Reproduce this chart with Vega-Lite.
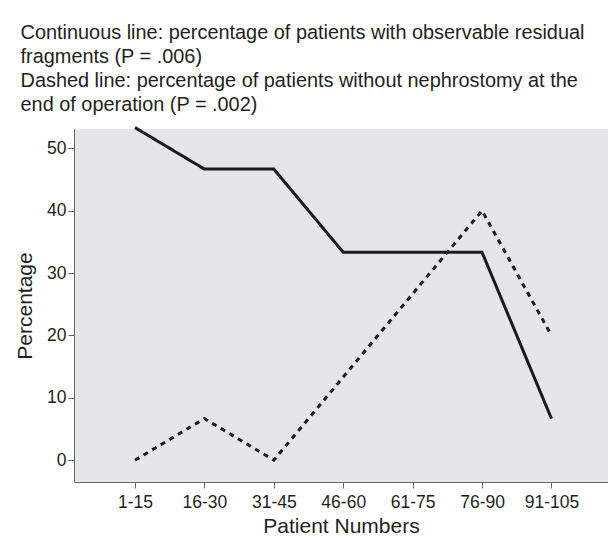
{
  "$schema": "https://vega.github.io/schema/vega-lite/v6.json",
  "width": 534,
  "height": 353,
  "autosize": {"type": "none"},
  "padding": {"left": 74, "top": 129, "right": 0, "bottom": 58},
  "background": "white",
  "title": {
    "text": [
      "Continuous line: percentage of patients with observable residual",
      "fragments (P = .006)",
      "Dashed line: percentage of patients without nephrostomy at the",
      "end of operation (P = .002)"
    ],
    "anchor": "start",
    "frame": "bounds",
    "font": "Liberation Sans",
    "fontSize": 19.9,
    "fontWeight": "normal",
    "lineHeight": 24,
    "color": "#231f20",
    "offset": 7,
    "dx": 6
  },
  "data": {
    "values": [
      {"group": "1-15", "series": "Residual fragments", "pct": 53.33},
      {"group": "16-30", "series": "Residual fragments", "pct": 46.67},
      {"group": "31-45", "series": "Residual fragments", "pct": 46.67},
      {"group": "46-60", "series": "Residual fragments", "pct": 33.33},
      {"group": "61-75", "series": "Residual fragments", "pct": 33.33},
      {"group": "76-90", "series": "Residual fragments", "pct": 33.33},
      {"group": "91-105", "series": "Residual fragments", "pct": 6.67},
      {"group": "1-15", "series": "Without nephrostomy", "pct": 0},
      {"group": "16-30", "series": "Without nephrostomy", "pct": 6.67},
      {"group": "31-45", "series": "Without nephrostomy", "pct": 0},
      {"group": "46-60", "series": "Without nephrostomy", "pct": 13.33},
      {"group": "61-75", "series": "Without nephrostomy", "pct": 26.67},
      {"group": "76-90", "series": "Without nephrostomy", "pct": 40},
      {"group": "91-105", "series": "Without nephrostomy", "pct": 20}
    ]
  },
  "mark": {"type": "line", "strokeWidth": 3, "color": "#1a1a1a", "strokeCap": "butt", "clip": false},
  "encoding": {
    "x": {
      "field": "group",
      "type": "ordinal",
      "sort": ["1-15", "16-30", "31-45", "46-60", "61-75", "76-90", "91-105"],
      "scale": {"type": "point", "padding": 0.847, "align": 0.519},
      "axis": {
        "title": "Patient Numbers",
        "labelAngle": 0,
        "grid": false,
        "domainColor": "#666666",
        "tickColor": "#666666",
        "tickSize": 6,
        "labelPadding": 5,
        "labelFont": "Liberation Sans",
        "labelFontSize": 17.5,
        "labelColor": "#231f20",
        "titleFont": "Liberation Sans",
        "titleFontSize": 21,
        "titleFontWeight": "normal",
        "titleColor": "#231f20",
        "titlePadding": 5
      }
    },
    "y": {
      "field": "pct",
      "type": "quantitative",
      "scale": {"domain": [-3.5, 53.1], "nice": false, "zero": false},
      "axis": {
        "title": "Percentage",
        "values": [0, 10, 20, 30, 40, 50],
        "grid": false,
        "domainColor": "#666666",
        "tickColor": "#666666",
        "tickSize": 6,
        "labelPadding": 2,
        "labelFont": "Liberation Sans",
        "labelFontSize": 17.5,
        "labelColor": "#231f20",
        "titleFont": "Liberation Sans",
        "titleFontSize": 21,
        "titleFontWeight": "normal",
        "titleColor": "#231f20",
        "titlePadding": 11
      }
    },
    "strokeDash": {
      "field": "series",
      "type": "nominal",
      "scale": {"domain": ["Residual fragments", "Without nephrostomy"], "range": [[1, 0], [5, 5]]},
      "legend": null
    }
  },
  "config": {
    "view": {"fill": "#e5e6e8", "stroke": null},
    "axis": {"domainWidth": 1, "tickWidth": 1}
  }
}
